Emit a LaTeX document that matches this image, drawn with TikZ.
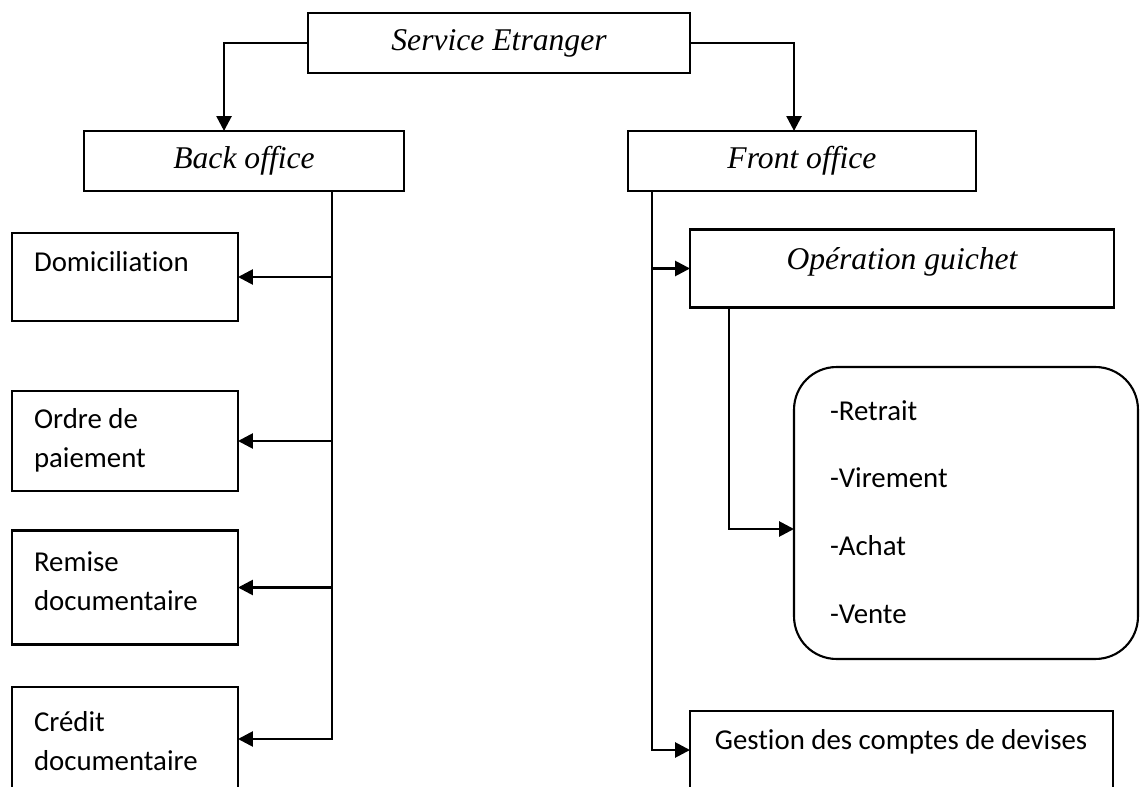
\documentclass[tikz,border=0pt]{standalone}
\usepackage{fontspec}
\setmainfont{Liberation Serif}
\newfontfamily\calfont[Ligatures=NoCommon]{Carlito}
\usetikzlibrary{arrows.meta,calc}
\begin{document}
\begin{tikzpicture}[x=0.02cm,y=-0.02cm, line width=1.2pt,
  box/.style={draw, rectangle, outer sep=0pt, inner sep=0pt},
  ttl/.style={font=\fontsize{18}{22}\selectfont\itshape},
  sans/.style={font=\calfont\fontsize{16.4}{22.2}\selectfont, align=left, inner sep=0pt},
  arr/.style={line width=1.5pt, -{Triangle[length=8.5pt,width=8.5pt]}}]
\useasboundingbox (0,0) rectangle (1140,787);
\clip (0,0) rectangle (1140,787);
% top
\node[box, ttl, minimum width=7.64cm, minimum height=1.2cm] (se) at (499,43) {Service Etranger};
\node[box, ttl, minimum width=6.4cm, minimum height=1.2cm] (bo) at (244,161) {Back office};
\node[box, ttl, minimum width=6.96cm, minimum height=1.2cm] (fo) at (802,161) {Front office};
% left column
\node[box, minimum width=4.52cm, minimum height=1.76cm] (dom) at (125,277) {};
\node[box, minimum width=4.52cm, minimum height=2.0cm] (ord) at (125,441) {};
\node[box, minimum width=4.52cm, minimum height=2.28cm] (rem) at (125,587.5) {};
\node[box, minimum width=4.52cm, minimum height=2.08cm] (cre) at (125,739) {};
\node[sans, anchor=west] (dom-t) at (33,262) {Domiciliation};
\node[sans, anchor=west] (ord-t) at (33,440) {Ordre de\\paiement};
\node[sans, anchor=west] (rem-t) at (33,581) {Remise\\documentaire};
\node[sans, anchor=west] (cre-t) at (33,741) {Crédit\\documentaire};
% right column
\node[box, minimum width=8.48cm, minimum height=1.56cm] (og) at (902,268.5) {};
\node[ttl, inner sep=0pt] (og-t) at (902,262) {Opération guichet};
\node[box, rounded corners=0.85cm, minimum width=6.88cm, minimum height=5.84cm] (list) at (966,513) {};
\node[sans, anchor=west, font=\calfont\fontsize{16.4}{38.6}\selectfont] (list-t) at (829,512) {-Retrait\\-Virement\\-Achat\\-Vente};
\node[box, minimum width=8.46cm, minimum height=1.56cm] (gest) at (901.5,750) {};
\node[sans] (gest-t) at (901,742) {Gestion des comptes de devises};
% connectors
\path (bo.north west) ++(140,0) coordinate (bo-in);
\path (fo.north west) ++(166,0) coordinate (fo-in);
\draw[arr] (se.west) -| (bo-in);
\draw[arr] (se.east) -| (fo-in);
\path (bo.south west) ++(248,0) coordinate (bo-out);
\draw[arr] (bo-out) |- (cre.east);
\draw[arr] (bo-out |- dom.east) -- (dom.east);
\draw[arr] (bo-out |- ord.east) -- (ord.east);
\draw[arr] (bo-out |- rem.east) -- (rem.east);
\path (fo.south west) ++(24,0) coordinate (fo-out);
\draw[arr] (fo-out) |- (gest.west);
\draw[arr] (fo-out |- og.west) -- (og.west);
\path (og.south west) ++(39,0) coordinate (og-out);
\coordinate (list-in) at ($(list.west)+(0,16)$);
\draw[arr] (og-out) |- (list-in);
\end{tikzpicture}
\end{document}
